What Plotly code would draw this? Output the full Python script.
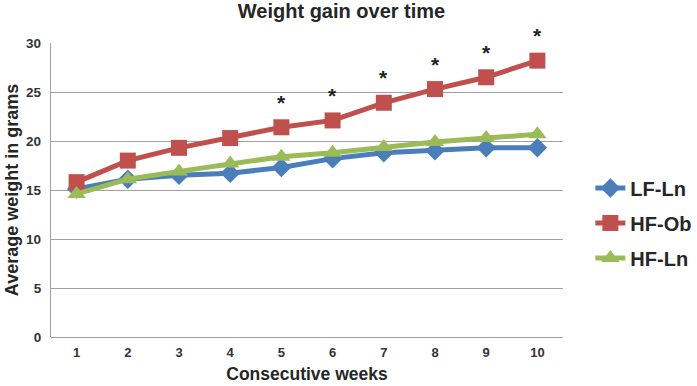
import plotly.graph_objects as go

weeks = [1, 2, 3, 4, 5, 6, 7, 8, 9, 10]
lf_ln = [15.1, 16.1, 16.5, 16.7, 17.3, 18.2, 18.8, 19.0, 19.3, 19.3]
hf_ob = [15.8, 18.0, 19.3, 20.3, 21.4, 22.1, 23.9, 25.3, 26.5, 28.2]
hf_ln = [14.6, 16.1, 16.9, 17.7, 18.4, 18.8, 19.4, 19.9, 20.3, 20.7]
star_weeks = [5, 6, 7, 8, 9, 10]

fig = go.Figure()
series = [
    ("LF-Ln", lf_ln, "#4A7EBB", "diamond", 15),
    ("HF-Ob", hf_ob, "#C0504D", "square", 16),
    ("HF-Ln", hf_ln, "#9BBB59", "triangle-up", 16),
]
for name, vals, col, sym, sz in series:
    fig.add_trace(go.Scatter(
        x=weeks, y=vals, name="<b>" + name + "</b>", mode="lines+markers",
        line=dict(color=col, width=5),
        marker=dict(symbol=sym, size=sz, color=col),
        legendgroup=name,
    ))

for w in star_weeks:
    i = weeks.index(w)
    fig.add_annotation(x=w, y=hf_ob[i], text="<b>*</b>", showarrow=False,
                       yshift=25, font=dict(size=21, color="#222", family="Liberation Sans"))

fig.update_layout(
    width=697, height=386,
    margin=dict(l=51, r=134, t=43, b=49),
    paper_bgcolor="white", plot_bgcolor="white",
    font=dict(family="Liberation Sans, Arial, sans-serif", color="#333"),
    title=dict(text="<b>Weight gain over time</b>", x=0.49, xanchor="center",
               y=0.99, yanchor="top", font=dict(size=20, color="#262626")),
    showlegend=True,
    legend=dict(xref="container", yref="container", x=0.847, xanchor="left",
                y=0.422, yanchor="middle",
                font=dict(size=20, color="#262626"), tracegroupgap=6,
                bgcolor="rgba(0,0,0,0)"),
    xaxis=dict(range=[0.5, 10.5], tickmode="array", tickvals=weeks,
               ticktext=["<b>%d</b>" % w for w in weeks], showgrid=False,
               showline=False, zeroline=False, ticks="", automargin=False,
               tickfont=dict(size=13, color="#333"), ticklabelstandoff=6,
               title=dict(text="<b>Consecutive weeks</b>", standoff=8,
                          font=dict(size=17.5, color="#262626"))),
    yaxis=dict(range=[0, 30], dtick=5, showgrid=True, gridcolor="#A0A0A0", gridwidth=1.3,
               showline=True, linecolor="#A0A0A0", linewidth=1.3, zeroline=True,
               zerolinecolor="#A0A0A0", zerolinewidth=1.3, ticks="", automargin=False,
               tickfont=dict(size=13.5, color="#333"), tickprefix="<b>", ticksuffix="</b>",
               ticklabelstandoff=6,
               title=dict(text="<b>Average weight in grams</b>", standoff=2,
                          font=dict(size=18, color="#262626"))),
)

fig.write_html("out.html", config={"displayModeBar": False},
               post_script="document.body.style.margin='0';")
